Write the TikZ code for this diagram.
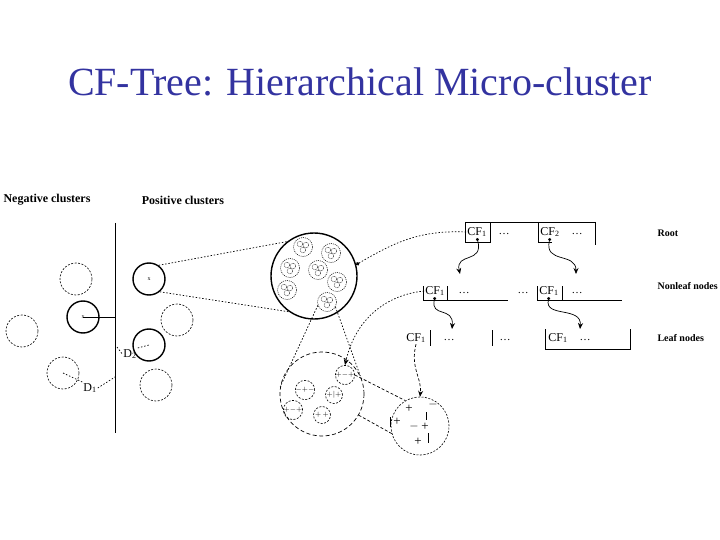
\documentclass[tikz,border=0pt]{standalone}
\usepackage{fontspec}
\setmainfont{Liberation Serif}
\usetikzlibrary{arrows.meta,positioning,calc}
\definecolor{titleblue}{RGB}{51,51,160}

\begin{document}
\begin{tikzpicture}[x=1pt,y=-1pt,
  heavy/.style={draw,circle,line width=1.4pt,minimum size=32pt,inner sep=0pt,font=\fontsize{6}{6}\selectfont},
  faint/.style={draw,circle,line width=0.6pt,dash pattern=on 2pt off 1.5pt,minimum size=32pt,inner sep=0pt},
  micro/.style={draw,circle,line width=0.5pt,dash pattern=on 1pt off 1pt,minimum size=19pt,inner sep=0pt},
  sub/.style={draw,circle,line width=0.6pt,dash pattern=on 2pt off 1.5pt,minimum size=17pt,inner sep=0pt,font=\fontsize{7}{7}\selectfont},
  cf/.style={inner sep=1pt,font=\fontsize{12}{14}\selectfont},
  dots/.style={inner sep=1pt,font=\fontsize{11}{12}\selectfont},
  head/.style={font=\fontsize{12}{14}\selectfont\bfseries},
  side/.style={anchor=west,font=\fontsize{10}{12}\selectfont\bfseries},
  link/.style={line width=0.7pt,dash pattern=on 1.5pt off 1.8pt},
  wavy/.style={line width=0.7pt,{Circle[length=3pt]}-{Stealth[length=6pt,width=5pt]}},
  sign/.style={inner sep=0pt,font=\fontsize{13}{13}\selectfont}
]
  \useasboundingbox (0,0) rectangle (720,540);
  \node[font=\fontsize{40}{44}\selectfont,text=titleblue] (title) at (360,82) {CF-Tree: Hierarchical Micro-cluster};

  % Left: clusters around the boundary
  \node[head] (neg) at (47,200) {Negative clusters};
  \node[head] (pos) at (183,200) {Positive clusters};
  \coordinate (top) at (115,223);
  \coordinate (bot) at (115,433);
  \draw[line width=1pt] (top) -- (bot);
  \node[faint] (n1) at (76,279) {};
  \node[heavy] (n2) at (83,317) {x};
  \node[faint] (n3) at (22,331) {};
  \node[faint] (n4) at (63,373) {};
  \node[heavy] (p1) at (149,279) {x};
  \node[heavy] (p2) at (149,345) {};
  \node[faint] (p3) at (177,320) {};
  \node[faint] (p4) at (156,385) {};
  \draw[line width=0.8pt] (n2.center) -- (n2 -| top);
  \node[cf] (d2) at (130,354) {D\textsubscript{2}};
  \node[cf] (d1) at (90,388) {D\textsubscript{1}};
  \coordinate (f2) at (117,347);
  \coordinate (f1) at (115,377);
  \draw[link] (f2) -- (d2.west);
  \draw[link] (d2.north east) -- (p2.center);
  \draw[link] (d1.east) -- (f1);
  \draw[link] (n4.center) -- (d1.north west);

  % Zoom: positive cluster -> micro-clusters
  \node[draw,circle,line width=1.4pt,minimum size=86pt,inner sep=0pt] (big) at (314,276) {};
  \foreach \n/\x/\y in {b1/303/247, b2/331/253, b3/290/268, b4/318/270, b5/337/282, b6/287/290, b7/327/302} {
    \node[micro] (\n) at (\x,\y) {};
    \foreach \dx/\dy in {-3/-3, 3/-2, 0/3} {
      \draw[line width=0.4pt,dash pattern=on 0.8pt off 0.8pt] (\x+\dx,\y+\dy) circle (2.8pt);
    }
  }
  \draw[link] (p1.55) -- (big.128);
  \draw[link] (p1.-50) -- (big.235);

  % Zoom: micro-cluster -> sub-clusters
  \node[draw,circle,line width=0.7pt,dash pattern=on 4pt off 2.5pt,minimum size=84pt,inner sep=0pt] (med) at (322,394) {};
  \foreach \n/\x/\y/\t in {m1/345/375/{$+{-}{+}$}, m2/305/390/{${-}{+}{-}$}, m3/334/395/{$+|+$}, m4/293/410/{$+{-}{+}$}, m5/322/415/{$+\,+$}} {
    \node[sub] (\n) at (\x,\y) {\t};
  }
  \draw[link] (b7.200) -- (med.170);
  \draw[link] (b7.-30) -- (med.25);

  % Zoom: sub-cluster -> points
  \node[draw,circle,line width=0.6pt,dash pattern=on 2pt off 1.5pt,minimum size=58pt,inner sep=0pt] (leaf) at (420,426) {};
  \foreach \x/\y/\t in {409/409/+, 433/404/$-$, 397/422/+, 414/426/$-$, 425/427/+, 418/442/+} {
    \node[sign] at (\x,\y) {\t};
  }
  \draw (390,417) -- (390,427);
  \draw (426,412) -- (426,420);
  \draw (428,433) -- (428,443);
  \draw[link,dash pattern=on 3pt off 2pt] (m1.east) -- (leaf.120);
  \draw[link,dash pattern=on 3pt off 2pt] (med.-30) -- (leaf.195);

  % Tree: root
  \draw (465,222) -- (595,222);
  \draw (465,222) -- (465,242) -- (490,242) -- (490,222);
  \draw (538,222) -- (538,242) -- (552,242);
  \draw (595,222) -- (595,245);
  \node[cf] (r1) at (477,232) {CF\textsubscript{1}};
  \node[dots] (r1d) at (504,234) {\dots};
  \node[cf] (r2) at (550,232) {CF\textsubscript{2}};
  \node[dots] (r2d) at (577,234) {\dots};

  % Tree: nonleaf nodes
  \draw (423,286) -- (423,300) -- (508,300);
  \draw (447,286) -- (447,300);
  \draw (537,286) -- (537,300) -- (622,300);
  \draw (562,286) -- (562,300);
  \node[cf] (nl1) at (435,291) {CF\textsubscript{1}};
  \node[dots] (nl1d) at (464,293) {\dots};
  \node[dots] (mid) at (523,293) {\dots};
  \node[cf] (nl2) at (549,291) {CF\textsubscript{1}};
  \node[dots] (nl2d) at (577,293) {\dots};

  % Tree: leaf nodes
  \draw (430,330) -- (430,346);
  \draw (492,330) -- (492,346);
  \draw (545,329) -- (545,349) -- (630,349) -- (630,329);
  \node[cf] (lf1) at (416,338) {CF\textsubscript{1}};
  \node[dots] (lf1d) at (449,340) {\dots};
  \node[dots] (lf2d) at (505,340) {\dots};
  \node[cf] (lf3) at (558,338) {CF\textsubscript{1}};
  \node[dots] (lf3d) at (585,340) {\dots};

  \node[side] (root) at (654,233) {Root};
  \node[side] (nonleaf) at (654,286) {Nonleaf nodes};
  \node[side] (leafs) at (654,338) {Leaf nodes};

  % Arrows
  \coordinate (a1) at (460,274);
  \coordinate (a2) at (576,274);
  \coordinate (a3) at (452,329);
  \coordinate (a4) at (580,329);
  \draw[wavy] (r1.south) .. controls (484,264) and (455,252) .. (a1);
  \draw[wavy] (r2.south) .. controls (544,264) and (576,252) .. (a2);
  \draw[wavy] (nl1.south) .. controls (430,318) and (454,306) .. (a3);
  \draw[wavy] (nl2.south) .. controls (544,318) and (582,306) .. (a4);
  \draw[link,-{Circle[length=3.5pt]}] (r1.west) .. controls (420,230) and (395,242) .. (big.15);
  \draw[link,-{Stealth[length=6pt,width=5pt]}] (nl1.west) .. controls (385,295) and (355,320) .. (m1.north);
  \draw[link,dash pattern=on 3pt off 2pt,-{Stealth[length=6pt,width=5pt]}] (lf1.south) .. controls (410,368) and (422,378) .. (leaf.north);
\end{tikzpicture}
\end{document}
